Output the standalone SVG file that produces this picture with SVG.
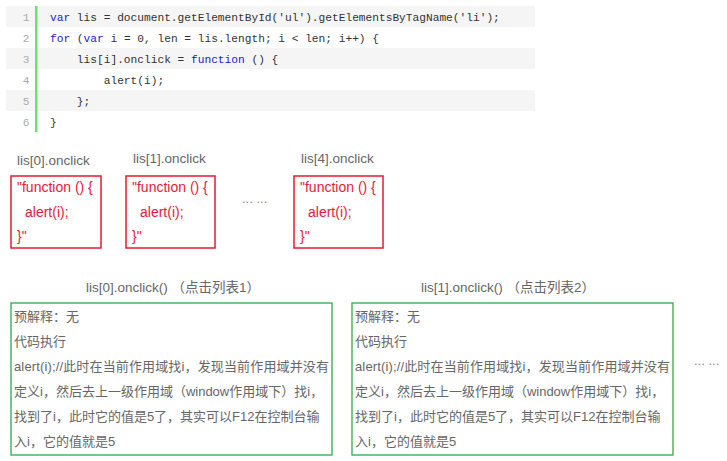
<svg xmlns="http://www.w3.org/2000/svg" width="727" height="461" viewBox="0 0 727 461">
<style>
.code{font-family:"Liberation Mono",monospace;font-size:11.2px;fill:#333;white-space:pre}
.kw{fill:#1a1ad6}
.ln{font-family:"Liberation Mono",monospace;font-size:11.2px;fill:#aaa;text-anchor:middle}
.alt{fill:#f5f5f5}
.lbl{font-family:"Liberation Sans","Noto Sans CJK SC",sans-serif;font-size:13.5px;fill:#666}
.red{font-family:"Liberation Sans","Noto Sans CJK SC",sans-serif;font-size:14px;fill:#e8173a;white-space:pre}
.rbox{fill:#fff;stroke:#e8192f;stroke-width:1.5}
.gbox{fill:#fff;stroke:#2eaa46;stroke-width:1.3}
.txt{font-family:"Liberation Sans","Noto Sans CJK SC",sans-serif;font-size:13px;fill:#666}
.dots{font-family:"Liberation Sans",sans-serif;font-size:13px;fill:#888;white-space:pre}
</style>
<rect width="727" height="461" fill="#fff"/>
<g id="code">
<rect class="alt" x="6" y="6" width="529" height="21"/>
<rect class="alt" x="6" y="48" width="529" height="21"/>
<rect class="alt" x="6" y="90" width="529" height="21"/>
<rect x="35" y="6" width="2.5" height="126" fill="#6ce26c"/>
<text class="ln" x="26" y="21">1</text>
<text class="ln" x="26" y="42">2</text>
<text class="ln" x="26" y="63">3</text>
<text class="ln" x="26" y="84">4</text>
<text class="ln" x="26" y="105">5</text>
<text class="ln" x="26" y="126">6</text>
<text class="code" x="50" y="21"><tspan class="kw">var</tspan> lis = document.getElementById('ul').getElementsByTagName('li');</text>
<text class="code" x="50" y="42"><tspan class="kw">for</tspan> (<tspan class="kw">var</tspan> i = 0, len = lis.length; i &lt; len; i++) {</text>
<text class="code" x="50" y="63">    lis[i].onclick = <tspan class="kw">function</tspan> () {</text>
<text class="code" x="50" y="84">        alert(i);</text>
<text class="code" x="50" y="105">    };</text>
<text class="code" x="50" y="126">}</text>
</g>
<g id="fn0">
<text class="lbl" x="17" y="165">lis[0].onclick</text>
<rect class="rbox" x="11" y="176" width="90" height="72"/>
<text class="red" x="17" y="192">"function () {</text>
<text class="red" x="25" y="217">alert(i);</text>
<text class="red" x="17" y="241">}"</text>
</g>
<g id="fn1">
<text class="lbl" x="133" y="163">lis[1].onclick</text>
<rect class="rbox" x="126" y="176" width="89" height="72"/>
<text class="red" x="132" y="192">"function () {</text>
<text class="red" x="140" y="217">alert(i);</text>
<text class="red" x="132" y="241">}"</text>
</g>
<text class="dots" x="242" y="203">... ...</text>
<g id="fn4">
<text class="lbl" x="301" y="163">lis[4].onclick</text>
<rect class="rbox" x="294" y="176" width="89" height="72"/>
<text class="red" x="300" y="192">"function () {</text>
<text class="red" x="308" y="217">alert(i);</text>
<text class="red" x="300" y="241">}"</text>
</g>
<g id="call0">
<text class="lbl" x="86" y="292">lis[0].onclick() （点击列表1）</text>
<rect class="gbox" x="11" y="303" width="321" height="152"/>
<text class="txt" x="14" y="321">预解释：无</text>
<text class="txt" x="14" y="346">代码执行</text>
<text class="txt" x="14" y="371" textLength="315" lengthAdjust="spacing">alert(i);//此时在当前作用域找i，发现当前作用域并没有</text>
<text class="txt" x="14" y="396">定义i，然后去上一级作用域（window作用域下）找i，</text>
<text class="txt" x="14" y="421">找到了i，此时它的值是5了，其实可以F12在控制台输</text>
<text class="txt" x="14" y="446">入i，它的值就是5</text>
</g>
<g id="call1">
<text class="lbl" x="421" y="292">lis[1].onclick() （点击列表2）</text>
<rect class="gbox" x="352" y="303" width="321" height="152"/>
<text class="txt" x="355" y="321">预解释：无</text>
<text class="txt" x="355" y="346">代码执行</text>
<text class="txt" x="355" y="371" textLength="315" lengthAdjust="spacing">alert(i);//此时在当前作用域找i，发现当前作用域并没有</text>
<text class="txt" x="355" y="396">定义i，然后去上一级作用域（window作用域下）找i，</text>
<text class="txt" x="355" y="421">找到了i，此时它的值是5了，其实可以F12在控制台输</text>
<text class="txt" x="355" y="446">入i，它的值就是5</text>
</g>
<text class="dots" x="694" y="365">... ...</text>
</svg>
